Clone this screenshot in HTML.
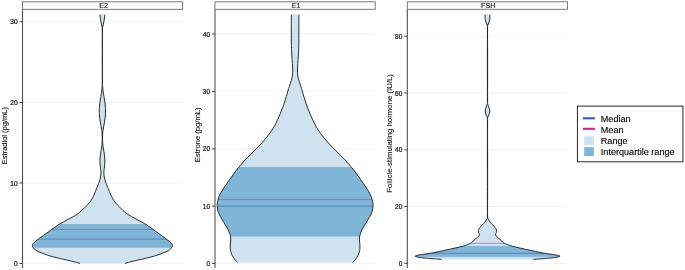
<!DOCTYPE html><html><head><meta charset="utf-8"><style>html,body{margin:0;padding:0;background:#fff}svg{display:block}#w{width:685px;height:270px;overflow:hidden;will-change:transform}</style></head><body><div id="w"><svg width="685" height="270" viewBox="0 0 685 270" font-family="'Liberation Sans', Arial, sans-serif">
<rect width="685" height="270" fill="#fff"/>
<line x1="22.5" x2="182.7" y1="263.4" y2="263.4" stroke="#ebebeb" stroke-width="0.6"/>
<line x1="22.5" x2="182.7" y1="183" y2="183" stroke="#ebebeb" stroke-width="0.6"/>
<line x1="22.5" x2="182.7" y1="102.5" y2="102.5" stroke="#ebebeb" stroke-width="0.6"/>
<line x1="22.5" x2="182.7" y1="21.8" y2="21.8" stroke="#ebebeb" stroke-width="0.6"/>
<clipPath id="c0"><path d="M100.00,14.60 C100.05,15.17 100.13,16.77 100.30,18.00 C100.47,19.23 100.75,20.67 101.00,22.00 C101.25,23.33 101.58,24.83 101.80,26.00 C102.02,27.17 102.23,26.67 102.32,29.00 C102.41,31.33 102.32,34.83 102.32,40.00 C102.32,45.17 102.32,53.33 102.32,60.00 C102.32,66.67 102.35,75.50 102.32,80.00 C102.29,84.50 102.30,84.83 102.15,87.00 C102.00,89.17 101.71,90.83 101.40,93.00 C101.09,95.17 100.62,97.83 100.30,100.00 C99.98,102.17 99.67,104.17 99.50,106.00 C99.33,107.83 99.30,109.33 99.30,111.00 C99.30,112.67 99.33,114.17 99.50,116.00 C99.67,117.83 99.98,120.00 100.30,122.00 C100.62,124.00 101.10,126.17 101.40,128.00 C101.70,129.83 101.95,131.33 102.10,133.00 C102.25,134.67 102.31,136.33 102.32,138.00 C102.33,139.67 102.29,141.33 102.15,143.00 C102.01,144.67 101.78,146.17 101.50,148.00 C101.22,149.83 100.77,152.00 100.50,154.00 C100.23,156.00 99.93,158.00 99.90,160.00 C99.87,162.00 100.13,163.93 100.30,166.00 C100.48,168.07 100.92,170.57 100.95,172.40 C100.98,174.23 100.74,175.57 100.50,177.00 C100.26,178.43 99.80,179.95 99.50,181.00 C99.20,182.05 99.02,182.47 98.70,183.30 C98.38,184.13 97.98,185.07 97.60,186.00 C97.22,186.93 96.93,187.57 96.40,188.90 C95.87,190.23 95.13,192.33 94.40,194.00 C93.67,195.67 92.87,197.40 92.00,198.90 C91.13,200.40 90.27,201.70 89.20,203.00 C88.13,204.30 86.83,205.45 85.60,206.70 C84.37,207.95 83.10,209.32 81.80,210.50 C80.50,211.68 79.20,212.80 77.80,213.80 C76.40,214.80 74.88,215.65 73.40,216.50 C71.92,217.35 70.48,218.03 68.90,218.90 C67.32,219.77 65.57,220.78 63.90,221.70 C62.23,222.62 60.48,223.43 58.90,224.40 C57.32,225.37 55.88,226.45 54.40,227.50 C52.92,228.55 51.38,229.70 50.00,230.70 C48.62,231.70 47.65,232.38 46.10,233.50 C44.55,234.62 42.40,236.15 40.70,237.40 C39.00,238.65 37.15,239.98 35.90,241.00 C34.65,242.02 33.78,242.75 33.20,243.50 C32.62,244.25 32.42,244.83 32.40,245.50 C32.38,246.17 32.45,246.63 33.10,247.50 C33.75,248.37 34.83,249.78 36.30,250.70 C37.77,251.62 39.68,252.15 41.90,253.00 C44.12,253.85 46.93,254.97 49.60,255.80 C52.27,256.63 54.93,257.27 57.90,258.00 C60.87,258.73 64.57,259.53 67.40,260.20 C70.23,260.87 72.82,261.47 74.90,262.00 C76.98,262.53 79.07,263.17 79.90,263.40 L124.90,263.40 C125.73,263.17 127.82,262.53 129.90,262.00 C131.98,261.47 134.57,260.87 137.40,260.20 C140.23,259.53 143.93,258.73 146.90,258.00 C149.87,257.27 152.53,256.63 155.20,255.80 C157.87,254.97 160.68,253.85 162.90,253.00 C165.12,252.15 167.03,251.62 168.50,250.70 C169.97,249.78 171.05,248.37 171.70,247.50 C172.35,246.63 172.42,246.17 172.40,245.50 C172.38,244.83 172.18,244.25 171.60,243.50 C171.02,242.75 170.15,242.02 168.90,241.00 C167.65,239.98 165.80,238.65 164.10,237.40 C162.40,236.15 160.25,234.62 158.70,233.50 C157.15,232.38 156.18,231.70 154.80,230.70 C153.42,229.70 151.88,228.55 150.40,227.50 C148.92,226.45 147.48,225.37 145.90,224.40 C144.32,223.43 142.57,222.62 140.90,221.70 C139.23,220.78 137.48,219.77 135.90,218.90 C134.32,218.03 132.88,217.35 131.40,216.50 C129.92,215.65 128.40,214.80 127.00,213.80 C125.60,212.80 124.30,211.68 123.00,210.50 C121.70,209.32 120.43,207.95 119.20,206.70 C117.97,205.45 116.67,204.30 115.60,203.00 C114.53,201.70 113.67,200.40 112.80,198.90 C111.93,197.40 111.13,195.67 110.40,194.00 C109.67,192.33 108.93,190.23 108.40,188.90 C107.87,187.57 107.58,186.93 107.20,186.00 C106.82,185.07 106.42,184.13 106.10,183.30 C105.78,182.47 105.60,182.05 105.30,181.00 C105.00,179.95 104.54,178.43 104.30,177.00 C104.06,175.57 103.82,174.23 103.85,172.40 C103.88,170.57 104.33,168.07 104.50,166.00 C104.67,163.93 104.93,162.00 104.90,160.00 C104.87,158.00 104.57,156.00 104.30,154.00 C104.03,152.00 103.58,149.83 103.30,148.00 C103.03,146.17 102.79,144.67 102.65,143.00 C102.51,141.33 102.47,139.67 102.48,138.00 C102.49,136.33 102.55,134.67 102.70,133.00 C102.85,131.33 103.10,129.83 103.40,128.00 C103.70,126.17 104.18,124.00 104.50,122.00 C104.82,120.00 105.13,117.83 105.30,116.00 C105.47,114.17 105.50,112.67 105.50,111.00 C105.50,109.33 105.47,107.83 105.30,106.00 C105.13,104.17 104.82,102.17 104.50,100.00 C104.18,97.83 103.71,95.17 103.40,93.00 C103.09,90.83 102.80,89.17 102.65,87.00 C102.50,84.83 102.51,84.50 102.48,80.00 C102.45,75.50 102.48,66.67 102.48,60.00 C102.48,53.33 102.48,45.17 102.48,40.00 C102.48,34.83 102.39,31.33 102.48,29.00 C102.57,26.67 102.78,27.17 103.00,26.00 C103.22,24.83 103.55,23.33 103.80,22.00 C104.05,20.67 104.33,19.23 104.50,18.00 C104.67,16.77 104.75,15.17 104.80,14.60 Z"/></clipPath>
<path d="M100.00,14.60 C100.05,15.17 100.13,16.77 100.30,18.00 C100.47,19.23 100.75,20.67 101.00,22.00 C101.25,23.33 101.58,24.83 101.80,26.00 C102.02,27.17 102.23,26.67 102.32,29.00 C102.41,31.33 102.32,34.83 102.32,40.00 C102.32,45.17 102.32,53.33 102.32,60.00 C102.32,66.67 102.35,75.50 102.32,80.00 C102.29,84.50 102.30,84.83 102.15,87.00 C102.00,89.17 101.71,90.83 101.40,93.00 C101.09,95.17 100.62,97.83 100.30,100.00 C99.98,102.17 99.67,104.17 99.50,106.00 C99.33,107.83 99.30,109.33 99.30,111.00 C99.30,112.67 99.33,114.17 99.50,116.00 C99.67,117.83 99.98,120.00 100.30,122.00 C100.62,124.00 101.10,126.17 101.40,128.00 C101.70,129.83 101.95,131.33 102.10,133.00 C102.25,134.67 102.31,136.33 102.32,138.00 C102.33,139.67 102.29,141.33 102.15,143.00 C102.01,144.67 101.78,146.17 101.50,148.00 C101.22,149.83 100.77,152.00 100.50,154.00 C100.23,156.00 99.93,158.00 99.90,160.00 C99.87,162.00 100.13,163.93 100.30,166.00 C100.48,168.07 100.92,170.57 100.95,172.40 C100.98,174.23 100.74,175.57 100.50,177.00 C100.26,178.43 99.80,179.95 99.50,181.00 C99.20,182.05 99.02,182.47 98.70,183.30 C98.38,184.13 97.98,185.07 97.60,186.00 C97.22,186.93 96.93,187.57 96.40,188.90 C95.87,190.23 95.13,192.33 94.40,194.00 C93.67,195.67 92.87,197.40 92.00,198.90 C91.13,200.40 90.27,201.70 89.20,203.00 C88.13,204.30 86.83,205.45 85.60,206.70 C84.37,207.95 83.10,209.32 81.80,210.50 C80.50,211.68 79.20,212.80 77.80,213.80 C76.40,214.80 74.88,215.65 73.40,216.50 C71.92,217.35 70.48,218.03 68.90,218.90 C67.32,219.77 65.57,220.78 63.90,221.70 C62.23,222.62 60.48,223.43 58.90,224.40 C57.32,225.37 55.88,226.45 54.40,227.50 C52.92,228.55 51.38,229.70 50.00,230.70 C48.62,231.70 47.65,232.38 46.10,233.50 C44.55,234.62 42.40,236.15 40.70,237.40 C39.00,238.65 37.15,239.98 35.90,241.00 C34.65,242.02 33.78,242.75 33.20,243.50 C32.62,244.25 32.42,244.83 32.40,245.50 C32.38,246.17 32.45,246.63 33.10,247.50 C33.75,248.37 34.83,249.78 36.30,250.70 C37.77,251.62 39.68,252.15 41.90,253.00 C44.12,253.85 46.93,254.97 49.60,255.80 C52.27,256.63 54.93,257.27 57.90,258.00 C60.87,258.73 64.57,259.53 67.40,260.20 C70.23,260.87 72.82,261.47 74.90,262.00 C76.98,262.53 79.07,263.17 79.90,263.40 L124.90,263.40 C125.73,263.17 127.82,262.53 129.90,262.00 C131.98,261.47 134.57,260.87 137.40,260.20 C140.23,259.53 143.93,258.73 146.90,258.00 C149.87,257.27 152.53,256.63 155.20,255.80 C157.87,254.97 160.68,253.85 162.90,253.00 C165.12,252.15 167.03,251.62 168.50,250.70 C169.97,249.78 171.05,248.37 171.70,247.50 C172.35,246.63 172.42,246.17 172.40,245.50 C172.38,244.83 172.18,244.25 171.60,243.50 C171.02,242.75 170.15,242.02 168.90,241.00 C167.65,239.98 165.80,238.65 164.10,237.40 C162.40,236.15 160.25,234.62 158.70,233.50 C157.15,232.38 156.18,231.70 154.80,230.70 C153.42,229.70 151.88,228.55 150.40,227.50 C148.92,226.45 147.48,225.37 145.90,224.40 C144.32,223.43 142.57,222.62 140.90,221.70 C139.23,220.78 137.48,219.77 135.90,218.90 C134.32,218.03 132.88,217.35 131.40,216.50 C129.92,215.65 128.40,214.80 127.00,213.80 C125.60,212.80 124.30,211.68 123.00,210.50 C121.70,209.32 120.43,207.95 119.20,206.70 C117.97,205.45 116.67,204.30 115.60,203.00 C114.53,201.70 113.67,200.40 112.80,198.90 C111.93,197.40 111.13,195.67 110.40,194.00 C109.67,192.33 108.93,190.23 108.40,188.90 C107.87,187.57 107.58,186.93 107.20,186.00 C106.82,185.07 106.42,184.13 106.10,183.30 C105.78,182.47 105.60,182.05 105.30,181.00 C105.00,179.95 104.54,178.43 104.30,177.00 C104.06,175.57 103.82,174.23 103.85,172.40 C103.88,170.57 104.33,168.07 104.50,166.00 C104.67,163.93 104.93,162.00 104.90,160.00 C104.87,158.00 104.57,156.00 104.30,154.00 C104.03,152.00 103.58,149.83 103.30,148.00 C103.03,146.17 102.79,144.67 102.65,143.00 C102.51,141.33 102.47,139.67 102.48,138.00 C102.49,136.33 102.55,134.67 102.70,133.00 C102.85,131.33 103.10,129.83 103.40,128.00 C103.70,126.17 104.18,124.00 104.50,122.00 C104.82,120.00 105.13,117.83 105.30,116.00 C105.47,114.17 105.50,112.67 105.50,111.00 C105.50,109.33 105.47,107.83 105.30,106.00 C105.13,104.17 104.82,102.17 104.50,100.00 C104.18,97.83 103.71,95.17 103.40,93.00 C103.09,90.83 102.80,89.17 102.65,87.00 C102.50,84.83 102.51,84.50 102.48,80.00 C102.45,75.50 102.48,66.67 102.48,60.00 C102.48,53.33 102.48,45.17 102.48,40.00 C102.48,34.83 102.39,31.33 102.48,29.00 C102.57,26.67 102.78,27.17 103.00,26.00 C103.22,24.83 103.55,23.33 103.80,22.00 C104.05,20.67 104.33,19.23 104.50,18.00 C104.67,16.77 104.75,15.17 104.80,14.60 Z" fill="#cfe2ef"/>
<g clip-path="url(#c0)"><rect x="22.5" y="224" width="160.2" height="23.80000000000001" fill="#80b5d8"/>
<line x1="22.5" x2="182.7" y1="229.3" y2="229.3" stroke="#cc2296" stroke-width="0.5"/>
<line x1="22.5" x2="182.7" y1="239.1" y2="239.1" stroke="#2f5fa5" stroke-width="0.55"/></g>
<path d="M100.00,14.60 C100.05,15.17 100.13,16.77 100.30,18.00 C100.47,19.23 100.75,20.67 101.00,22.00 C101.25,23.33 101.58,24.83 101.80,26.00 C102.02,27.17 102.23,26.67 102.32,29.00 C102.41,31.33 102.32,34.83 102.32,40.00 C102.32,45.17 102.32,53.33 102.32,60.00 C102.32,66.67 102.35,75.50 102.32,80.00 C102.29,84.50 102.30,84.83 102.15,87.00 C102.00,89.17 101.71,90.83 101.40,93.00 C101.09,95.17 100.62,97.83 100.30,100.00 C99.98,102.17 99.67,104.17 99.50,106.00 C99.33,107.83 99.30,109.33 99.30,111.00 C99.30,112.67 99.33,114.17 99.50,116.00 C99.67,117.83 99.98,120.00 100.30,122.00 C100.62,124.00 101.10,126.17 101.40,128.00 C101.70,129.83 101.95,131.33 102.10,133.00 C102.25,134.67 102.31,136.33 102.32,138.00 C102.33,139.67 102.29,141.33 102.15,143.00 C102.01,144.67 101.78,146.17 101.50,148.00 C101.22,149.83 100.77,152.00 100.50,154.00 C100.23,156.00 99.93,158.00 99.90,160.00 C99.87,162.00 100.13,163.93 100.30,166.00 C100.48,168.07 100.92,170.57 100.95,172.40 C100.98,174.23 100.74,175.57 100.50,177.00 C100.26,178.43 99.80,179.95 99.50,181.00 C99.20,182.05 99.02,182.47 98.70,183.30 C98.38,184.13 97.98,185.07 97.60,186.00 C97.22,186.93 96.93,187.57 96.40,188.90 C95.87,190.23 95.13,192.33 94.40,194.00 C93.67,195.67 92.87,197.40 92.00,198.90 C91.13,200.40 90.27,201.70 89.20,203.00 C88.13,204.30 86.83,205.45 85.60,206.70 C84.37,207.95 83.10,209.32 81.80,210.50 C80.50,211.68 79.20,212.80 77.80,213.80 C76.40,214.80 74.88,215.65 73.40,216.50 C71.92,217.35 70.48,218.03 68.90,218.90 C67.32,219.77 65.57,220.78 63.90,221.70 C62.23,222.62 60.48,223.43 58.90,224.40 C57.32,225.37 55.88,226.45 54.40,227.50 C52.92,228.55 51.38,229.70 50.00,230.70 C48.62,231.70 47.65,232.38 46.10,233.50 C44.55,234.62 42.40,236.15 40.70,237.40 C39.00,238.65 37.15,239.98 35.90,241.00 C34.65,242.02 33.78,242.75 33.20,243.50 C32.62,244.25 32.42,244.83 32.40,245.50 C32.38,246.17 32.45,246.63 33.10,247.50 C33.75,248.37 34.83,249.78 36.30,250.70 C37.77,251.62 39.68,252.15 41.90,253.00 C44.12,253.85 46.93,254.97 49.60,255.80 C52.27,256.63 54.93,257.27 57.90,258.00 C60.87,258.73 64.57,259.53 67.40,260.20 C70.23,260.87 72.82,261.47 74.90,262.00 C76.98,262.53 79.07,263.17 79.90,263.40" fill="none" stroke="#222" stroke-width="0.95"/>
<path d="M104.80,14.60 C104.75,15.17 104.67,16.77 104.50,18.00 C104.33,19.23 104.05,20.67 103.80,22.00 C103.55,23.33 103.22,24.83 103.00,26.00 C102.78,27.17 102.57,26.67 102.48,29.00 C102.39,31.33 102.48,34.83 102.48,40.00 C102.48,45.17 102.48,53.33 102.48,60.00 C102.48,66.67 102.45,75.50 102.48,80.00 C102.51,84.50 102.50,84.83 102.65,87.00 C102.80,89.17 103.09,90.83 103.40,93.00 C103.71,95.17 104.18,97.83 104.50,100.00 C104.82,102.17 105.13,104.17 105.30,106.00 C105.47,107.83 105.50,109.33 105.50,111.00 C105.50,112.67 105.47,114.17 105.30,116.00 C105.13,117.83 104.82,120.00 104.50,122.00 C104.18,124.00 103.70,126.17 103.40,128.00 C103.10,129.83 102.85,131.33 102.70,133.00 C102.55,134.67 102.49,136.33 102.48,138.00 C102.47,139.67 102.51,141.33 102.65,143.00 C102.79,144.67 103.03,146.17 103.30,148.00 C103.58,149.83 104.03,152.00 104.30,154.00 C104.57,156.00 104.87,158.00 104.90,160.00 C104.93,162.00 104.67,163.93 104.50,166.00 C104.33,168.07 103.88,170.57 103.85,172.40 C103.82,174.23 104.06,175.57 104.30,177.00 C104.54,178.43 105.00,179.95 105.30,181.00 C105.60,182.05 105.78,182.47 106.10,183.30 C106.42,184.13 106.82,185.07 107.20,186.00 C107.58,186.93 107.87,187.57 108.40,188.90 C108.93,190.23 109.67,192.33 110.40,194.00 C111.13,195.67 111.93,197.40 112.80,198.90 C113.67,200.40 114.53,201.70 115.60,203.00 C116.67,204.30 117.97,205.45 119.20,206.70 C120.43,207.95 121.70,209.32 123.00,210.50 C124.30,211.68 125.60,212.80 127.00,213.80 C128.40,214.80 129.92,215.65 131.40,216.50 C132.88,217.35 134.32,218.03 135.90,218.90 C137.48,219.77 139.23,220.78 140.90,221.70 C142.57,222.62 144.32,223.43 145.90,224.40 C147.48,225.37 148.92,226.45 150.40,227.50 C151.88,228.55 153.42,229.70 154.80,230.70 C156.18,231.70 157.15,232.38 158.70,233.50 C160.25,234.62 162.40,236.15 164.10,237.40 C165.80,238.65 167.65,239.98 168.90,241.00 C170.15,242.02 171.02,242.75 171.60,243.50 C172.18,244.25 172.38,244.83 172.40,245.50 C172.42,246.17 172.35,246.63 171.70,247.50 C171.05,248.37 169.97,249.78 168.50,250.70 C167.03,251.62 165.12,252.15 162.90,253.00 C160.68,253.85 157.87,254.97 155.20,255.80 C152.53,256.63 149.87,257.27 146.90,258.00 C143.93,258.73 140.23,259.53 137.40,260.20 C134.57,260.87 131.98,261.47 129.90,262.00 C127.82,262.53 125.73,263.17 124.90,263.40" fill="none" stroke="#222" stroke-width="0.95"/>
<line x1="22.5" x2="22.5" y1="9.3" y2="268.1" stroke="#505050" stroke-width="1.1"/>
<rect x="22.5" y="1.8" width="160.2" height="7.500000000000001" fill="#fff" stroke="#6a6a6a" stroke-width="0.9"/>
<text x="103.6" y="8.1" font-size="7.3" text-anchor="middle" fill="#111" stroke="#111" stroke-width="0.12">E2</text>
<line x1="19.5" x2="22.5" y1="263.4" y2="263.4" stroke="#2a2a2a" stroke-width="0.9"/>
<text x="17.6" y="265.9" font-size="6.6" text-anchor="end" fill="#111" stroke="#111" stroke-width="0.2">0</text>
<line x1="19.5" x2="22.5" y1="183" y2="183" stroke="#2a2a2a" stroke-width="0.9"/>
<text x="17.6" y="185.5" font-size="6.6" text-anchor="end" fill="#111" stroke="#111" stroke-width="0.2">10</text>
<line x1="19.5" x2="22.5" y1="102.5" y2="102.5" stroke="#2a2a2a" stroke-width="0.9"/>
<text x="17.6" y="105.0" font-size="6.6" text-anchor="end" fill="#111" stroke="#111" stroke-width="0.2">20</text>
<line x1="19.5" x2="22.5" y1="21.8" y2="21.8" stroke="#2a2a2a" stroke-width="0.9"/>
<text x="17.6" y="24.3" font-size="6.6" text-anchor="end" fill="#111" stroke="#111" stroke-width="0.2">30</text>
<text transform="translate(7.0,135.6) rotate(-90)" font-size="7.5" text-anchor="middle" fill="#111" stroke="#111" stroke-width="0.1">Estradiol (pg/mL)</text>
<line x1="215" x2="375.2" y1="263.4" y2="263.4" stroke="#ebebeb" stroke-width="0.6"/>
<line x1="215" x2="375.2" y1="206.1" y2="206.1" stroke="#ebebeb" stroke-width="0.6"/>
<line x1="215" x2="375.2" y1="148.8" y2="148.8" stroke="#ebebeb" stroke-width="0.6"/>
<line x1="215" x2="375.2" y1="91.4" y2="91.4" stroke="#ebebeb" stroke-width="0.6"/>
<line x1="215" x2="375.2" y1="34" y2="34" stroke="#ebebeb" stroke-width="0.6"/>
<clipPath id="c1"><path d="M291.30,14.60 C291.30,17.17 291.28,24.83 291.30,30.00 C291.32,35.17 291.32,41.43 291.40,45.60 C291.48,49.77 291.63,52.05 291.80,55.00 C291.97,57.95 292.25,60.80 292.40,63.30 C292.55,65.80 292.67,68.22 292.70,70.00 C292.73,71.78 292.72,72.67 292.60,74.00 C292.48,75.33 292.30,76.67 292.00,78.00 C291.70,79.33 291.12,81.00 290.80,82.00 C290.48,83.00 290.35,83.22 290.10,84.00 C289.85,84.78 289.67,85.53 289.30,86.70 C288.93,87.87 288.40,89.33 287.90,91.00 C287.40,92.67 286.90,94.70 286.30,96.70 C285.70,98.70 285.07,100.78 284.30,103.00 C283.53,105.22 282.62,107.67 281.70,110.00 C280.78,112.33 279.92,114.50 278.80,117.00 C277.68,119.50 276.25,122.67 275.00,125.00 C273.75,127.33 272.68,128.95 271.30,131.00 C269.92,133.05 268.28,135.30 266.70,137.30 C265.12,139.30 263.47,141.17 261.80,143.00 C260.13,144.83 258.48,146.47 256.70,148.30 C254.92,150.13 253.03,152.05 251.10,154.00 C249.17,155.95 246.83,158.17 245.10,160.00 C243.37,161.83 242.20,163.23 240.70,165.00 C239.20,166.77 237.65,168.60 236.10,170.60 C234.55,172.60 232.95,174.85 231.40,177.00 C229.85,179.15 228.18,181.48 226.80,183.50 C225.42,185.52 224.27,187.25 223.10,189.10 C221.93,190.95 220.67,192.75 219.80,194.60 C218.93,196.45 218.33,198.50 217.90,200.20 C217.47,201.90 217.28,203.50 217.20,204.80 C217.12,206.10 217.25,206.92 217.40,208.00 C217.55,209.08 217.75,210.13 218.10,211.30 C218.45,212.47 219.03,213.97 219.50,215.00 C219.97,216.03 220.25,216.38 220.90,217.50 C221.55,218.62 222.55,220.28 223.40,221.70 C224.25,223.12 225.18,224.62 226.00,226.00 C226.82,227.38 227.65,228.67 228.30,230.00 C228.95,231.33 229.52,232.83 229.90,234.00 C230.28,235.17 230.47,235.83 230.60,237.00 C230.73,238.17 230.75,239.67 230.70,241.00 C230.65,242.33 230.37,243.67 230.30,245.00 C230.23,246.33 230.20,247.83 230.30,249.00 C230.40,250.17 230.58,250.92 230.90,252.00 C231.22,253.08 231.70,254.45 232.20,255.50 C232.70,256.55 233.32,257.47 233.90,258.30 C234.48,259.13 235.10,259.82 235.70,260.50 C236.30,261.18 237.20,262.08 237.50,262.40 L352.70,262.40 C353.00,262.08 353.90,261.18 354.50,260.50 C355.10,259.82 355.72,259.13 356.30,258.30 C356.88,257.47 357.50,256.55 358.00,255.50 C358.50,254.45 358.98,253.08 359.30,252.00 C359.62,250.92 359.80,250.17 359.90,249.00 C360.00,247.83 359.97,246.33 359.90,245.00 C359.83,243.67 359.55,242.33 359.50,241.00 C359.45,239.67 359.47,238.17 359.60,237.00 C359.73,235.83 359.92,235.17 360.30,234.00 C360.68,232.83 361.25,231.33 361.90,230.00 C362.55,228.67 363.38,227.38 364.20,226.00 C365.02,224.62 365.95,223.12 366.80,221.70 C367.65,220.28 368.65,218.62 369.30,217.50 C369.95,216.38 370.23,216.03 370.70,215.00 C371.17,213.97 371.75,212.47 372.10,211.30 C372.45,210.13 372.65,209.08 372.80,208.00 C372.95,206.92 373.08,206.10 373.00,204.80 C372.92,203.50 372.73,201.90 372.30,200.20 C371.87,198.50 371.27,196.45 370.40,194.60 C369.53,192.75 368.27,190.95 367.10,189.10 C365.93,187.25 364.78,185.52 363.40,183.50 C362.02,181.48 360.35,179.15 358.80,177.00 C357.25,174.85 355.65,172.60 354.10,170.60 C352.55,168.60 351.00,166.77 349.50,165.00 C348.00,163.23 346.83,161.83 345.10,160.00 C343.37,158.17 341.03,155.95 339.10,154.00 C337.17,152.05 335.28,150.13 333.50,148.30 C331.72,146.47 330.07,144.83 328.40,143.00 C326.73,141.17 325.08,139.30 323.50,137.30 C321.92,135.30 320.28,133.05 318.90,131.00 C317.52,128.95 316.45,127.33 315.20,125.00 C313.95,122.67 312.52,119.50 311.40,117.00 C310.28,114.50 309.42,112.33 308.50,110.00 C307.58,107.67 306.67,105.22 305.90,103.00 C305.13,100.78 304.50,98.70 303.90,96.70 C303.30,94.70 302.80,92.67 302.30,91.00 C301.80,89.33 301.27,87.87 300.90,86.70 C300.53,85.53 300.35,84.78 300.10,84.00 C299.85,83.22 299.72,83.00 299.40,82.00 C299.08,81.00 298.50,79.33 298.20,78.00 C297.90,76.67 297.72,75.33 297.60,74.00 C297.48,72.67 297.47,71.78 297.50,70.00 C297.53,68.22 297.65,65.80 297.80,63.30 C297.95,60.80 298.23,57.95 298.40,55.00 C298.57,52.05 298.72,49.77 298.80,45.60 C298.88,41.43 298.88,35.17 298.90,30.00 C298.92,24.83 298.90,17.17 298.90,14.60 Z"/></clipPath>
<path d="M291.30,14.60 C291.30,17.17 291.28,24.83 291.30,30.00 C291.32,35.17 291.32,41.43 291.40,45.60 C291.48,49.77 291.63,52.05 291.80,55.00 C291.97,57.95 292.25,60.80 292.40,63.30 C292.55,65.80 292.67,68.22 292.70,70.00 C292.73,71.78 292.72,72.67 292.60,74.00 C292.48,75.33 292.30,76.67 292.00,78.00 C291.70,79.33 291.12,81.00 290.80,82.00 C290.48,83.00 290.35,83.22 290.10,84.00 C289.85,84.78 289.67,85.53 289.30,86.70 C288.93,87.87 288.40,89.33 287.90,91.00 C287.40,92.67 286.90,94.70 286.30,96.70 C285.70,98.70 285.07,100.78 284.30,103.00 C283.53,105.22 282.62,107.67 281.70,110.00 C280.78,112.33 279.92,114.50 278.80,117.00 C277.68,119.50 276.25,122.67 275.00,125.00 C273.75,127.33 272.68,128.95 271.30,131.00 C269.92,133.05 268.28,135.30 266.70,137.30 C265.12,139.30 263.47,141.17 261.80,143.00 C260.13,144.83 258.48,146.47 256.70,148.30 C254.92,150.13 253.03,152.05 251.10,154.00 C249.17,155.95 246.83,158.17 245.10,160.00 C243.37,161.83 242.20,163.23 240.70,165.00 C239.20,166.77 237.65,168.60 236.10,170.60 C234.55,172.60 232.95,174.85 231.40,177.00 C229.85,179.15 228.18,181.48 226.80,183.50 C225.42,185.52 224.27,187.25 223.10,189.10 C221.93,190.95 220.67,192.75 219.80,194.60 C218.93,196.45 218.33,198.50 217.90,200.20 C217.47,201.90 217.28,203.50 217.20,204.80 C217.12,206.10 217.25,206.92 217.40,208.00 C217.55,209.08 217.75,210.13 218.10,211.30 C218.45,212.47 219.03,213.97 219.50,215.00 C219.97,216.03 220.25,216.38 220.90,217.50 C221.55,218.62 222.55,220.28 223.40,221.70 C224.25,223.12 225.18,224.62 226.00,226.00 C226.82,227.38 227.65,228.67 228.30,230.00 C228.95,231.33 229.52,232.83 229.90,234.00 C230.28,235.17 230.47,235.83 230.60,237.00 C230.73,238.17 230.75,239.67 230.70,241.00 C230.65,242.33 230.37,243.67 230.30,245.00 C230.23,246.33 230.20,247.83 230.30,249.00 C230.40,250.17 230.58,250.92 230.90,252.00 C231.22,253.08 231.70,254.45 232.20,255.50 C232.70,256.55 233.32,257.47 233.90,258.30 C234.48,259.13 235.10,259.82 235.70,260.50 C236.30,261.18 237.20,262.08 237.50,262.40 L352.70,262.40 C353.00,262.08 353.90,261.18 354.50,260.50 C355.10,259.82 355.72,259.13 356.30,258.30 C356.88,257.47 357.50,256.55 358.00,255.50 C358.50,254.45 358.98,253.08 359.30,252.00 C359.62,250.92 359.80,250.17 359.90,249.00 C360.00,247.83 359.97,246.33 359.90,245.00 C359.83,243.67 359.55,242.33 359.50,241.00 C359.45,239.67 359.47,238.17 359.60,237.00 C359.73,235.83 359.92,235.17 360.30,234.00 C360.68,232.83 361.25,231.33 361.90,230.00 C362.55,228.67 363.38,227.38 364.20,226.00 C365.02,224.62 365.95,223.12 366.80,221.70 C367.65,220.28 368.65,218.62 369.30,217.50 C369.95,216.38 370.23,216.03 370.70,215.00 C371.17,213.97 371.75,212.47 372.10,211.30 C372.45,210.13 372.65,209.08 372.80,208.00 C372.95,206.92 373.08,206.10 373.00,204.80 C372.92,203.50 372.73,201.90 372.30,200.20 C371.87,198.50 371.27,196.45 370.40,194.60 C369.53,192.75 368.27,190.95 367.10,189.10 C365.93,187.25 364.78,185.52 363.40,183.50 C362.02,181.48 360.35,179.15 358.80,177.00 C357.25,174.85 355.65,172.60 354.10,170.60 C352.55,168.60 351.00,166.77 349.50,165.00 C348.00,163.23 346.83,161.83 345.10,160.00 C343.37,158.17 341.03,155.95 339.10,154.00 C337.17,152.05 335.28,150.13 333.50,148.30 C331.72,146.47 330.07,144.83 328.40,143.00 C326.73,141.17 325.08,139.30 323.50,137.30 C321.92,135.30 320.28,133.05 318.90,131.00 C317.52,128.95 316.45,127.33 315.20,125.00 C313.95,122.67 312.52,119.50 311.40,117.00 C310.28,114.50 309.42,112.33 308.50,110.00 C307.58,107.67 306.67,105.22 305.90,103.00 C305.13,100.78 304.50,98.70 303.90,96.70 C303.30,94.70 302.80,92.67 302.30,91.00 C301.80,89.33 301.27,87.87 300.90,86.70 C300.53,85.53 300.35,84.78 300.10,84.00 C299.85,83.22 299.72,83.00 299.40,82.00 C299.08,81.00 298.50,79.33 298.20,78.00 C297.90,76.67 297.72,75.33 297.60,74.00 C297.48,72.67 297.47,71.78 297.50,70.00 C297.53,68.22 297.65,65.80 297.80,63.30 C297.95,60.80 298.23,57.95 298.40,55.00 C298.57,52.05 298.72,49.77 298.80,45.60 C298.88,41.43 298.88,35.17 298.90,30.00 C298.92,24.83 298.90,17.17 298.90,14.60 Z" fill="#cfe2ef"/>
<g clip-path="url(#c1)"><rect x="215" y="167.0" width="160.2" height="69.6" fill="#80b5d8"/>
<line x1="215" x2="375.2" y1="199.4" y2="199.4" stroke="#cc2296" stroke-width="0.5"/>
<line x1="215" x2="375.2" y1="206.1" y2="206.1" stroke="#2f5fa5" stroke-width="0.55"/></g>
<path d="M291.30,14.60 C291.30,17.17 291.28,24.83 291.30,30.00 C291.32,35.17 291.32,41.43 291.40,45.60 C291.48,49.77 291.63,52.05 291.80,55.00 C291.97,57.95 292.25,60.80 292.40,63.30 C292.55,65.80 292.67,68.22 292.70,70.00 C292.73,71.78 292.72,72.67 292.60,74.00 C292.48,75.33 292.30,76.67 292.00,78.00 C291.70,79.33 291.12,81.00 290.80,82.00 C290.48,83.00 290.35,83.22 290.10,84.00 C289.85,84.78 289.67,85.53 289.30,86.70 C288.93,87.87 288.40,89.33 287.90,91.00 C287.40,92.67 286.90,94.70 286.30,96.70 C285.70,98.70 285.07,100.78 284.30,103.00 C283.53,105.22 282.62,107.67 281.70,110.00 C280.78,112.33 279.92,114.50 278.80,117.00 C277.68,119.50 276.25,122.67 275.00,125.00 C273.75,127.33 272.68,128.95 271.30,131.00 C269.92,133.05 268.28,135.30 266.70,137.30 C265.12,139.30 263.47,141.17 261.80,143.00 C260.13,144.83 258.48,146.47 256.70,148.30 C254.92,150.13 253.03,152.05 251.10,154.00 C249.17,155.95 246.83,158.17 245.10,160.00 C243.37,161.83 242.20,163.23 240.70,165.00 C239.20,166.77 237.65,168.60 236.10,170.60 C234.55,172.60 232.95,174.85 231.40,177.00 C229.85,179.15 228.18,181.48 226.80,183.50 C225.42,185.52 224.27,187.25 223.10,189.10 C221.93,190.95 220.67,192.75 219.80,194.60 C218.93,196.45 218.33,198.50 217.90,200.20 C217.47,201.90 217.28,203.50 217.20,204.80 C217.12,206.10 217.25,206.92 217.40,208.00 C217.55,209.08 217.75,210.13 218.10,211.30 C218.45,212.47 219.03,213.97 219.50,215.00 C219.97,216.03 220.25,216.38 220.90,217.50 C221.55,218.62 222.55,220.28 223.40,221.70 C224.25,223.12 225.18,224.62 226.00,226.00 C226.82,227.38 227.65,228.67 228.30,230.00 C228.95,231.33 229.52,232.83 229.90,234.00 C230.28,235.17 230.47,235.83 230.60,237.00 C230.73,238.17 230.75,239.67 230.70,241.00 C230.65,242.33 230.37,243.67 230.30,245.00 C230.23,246.33 230.20,247.83 230.30,249.00 C230.40,250.17 230.58,250.92 230.90,252.00 C231.22,253.08 231.70,254.45 232.20,255.50 C232.70,256.55 233.32,257.47 233.90,258.30 C234.48,259.13 235.10,259.82 235.70,260.50 C236.30,261.18 237.20,262.08 237.50,262.40" fill="none" stroke="#222" stroke-width="0.95"/>
<path d="M298.90,14.60 C298.90,17.17 298.92,24.83 298.90,30.00 C298.88,35.17 298.88,41.43 298.80,45.60 C298.72,49.77 298.57,52.05 298.40,55.00 C298.23,57.95 297.95,60.80 297.80,63.30 C297.65,65.80 297.53,68.22 297.50,70.00 C297.47,71.78 297.48,72.67 297.60,74.00 C297.72,75.33 297.90,76.67 298.20,78.00 C298.50,79.33 299.08,81.00 299.40,82.00 C299.72,83.00 299.85,83.22 300.10,84.00 C300.35,84.78 300.53,85.53 300.90,86.70 C301.27,87.87 301.80,89.33 302.30,91.00 C302.80,92.67 303.30,94.70 303.90,96.70 C304.50,98.70 305.13,100.78 305.90,103.00 C306.67,105.22 307.58,107.67 308.50,110.00 C309.42,112.33 310.28,114.50 311.40,117.00 C312.52,119.50 313.95,122.67 315.20,125.00 C316.45,127.33 317.52,128.95 318.90,131.00 C320.28,133.05 321.92,135.30 323.50,137.30 C325.08,139.30 326.73,141.17 328.40,143.00 C330.07,144.83 331.72,146.47 333.50,148.30 C335.28,150.13 337.17,152.05 339.10,154.00 C341.03,155.95 343.37,158.17 345.10,160.00 C346.83,161.83 348.00,163.23 349.50,165.00 C351.00,166.77 352.55,168.60 354.10,170.60 C355.65,172.60 357.25,174.85 358.80,177.00 C360.35,179.15 362.02,181.48 363.40,183.50 C364.78,185.52 365.93,187.25 367.10,189.10 C368.27,190.95 369.53,192.75 370.40,194.60 C371.27,196.45 371.87,198.50 372.30,200.20 C372.73,201.90 372.92,203.50 373.00,204.80 C373.08,206.10 372.95,206.92 372.80,208.00 C372.65,209.08 372.45,210.13 372.10,211.30 C371.75,212.47 371.17,213.97 370.70,215.00 C370.23,216.03 369.95,216.38 369.30,217.50 C368.65,218.62 367.65,220.28 366.80,221.70 C365.95,223.12 365.02,224.62 364.20,226.00 C363.38,227.38 362.55,228.67 361.90,230.00 C361.25,231.33 360.68,232.83 360.30,234.00 C359.92,235.17 359.73,235.83 359.60,237.00 C359.47,238.17 359.45,239.67 359.50,241.00 C359.55,242.33 359.83,243.67 359.90,245.00 C359.97,246.33 360.00,247.83 359.90,249.00 C359.80,250.17 359.62,250.92 359.30,252.00 C358.98,253.08 358.50,254.45 358.00,255.50 C357.50,256.55 356.88,257.47 356.30,258.30 C355.72,259.13 355.10,259.82 354.50,260.50 C353.90,261.18 353.00,262.08 352.70,262.40" fill="none" stroke="#222" stroke-width="0.95"/>
<line x1="215" x2="215" y1="9.3" y2="268.1" stroke="#505050" stroke-width="1.1"/>
<rect x="215" y="1.8" width="160.2" height="7.500000000000001" fill="#fff" stroke="#6a6a6a" stroke-width="0.9"/>
<text x="296.1" y="8.1" font-size="7.3" text-anchor="middle" fill="#111" stroke="#111" stroke-width="0.12">E1</text>
<line x1="212" x2="215" y1="263.4" y2="263.4" stroke="#2a2a2a" stroke-width="0.9"/>
<text x="210.1" y="265.9" font-size="6.6" text-anchor="end" fill="#111" stroke="#111" stroke-width="0.2">0</text>
<line x1="212" x2="215" y1="206.1" y2="206.1" stroke="#2a2a2a" stroke-width="0.9"/>
<text x="210.1" y="208.6" font-size="6.6" text-anchor="end" fill="#111" stroke="#111" stroke-width="0.2">10</text>
<line x1="212" x2="215" y1="148.8" y2="148.8" stroke="#2a2a2a" stroke-width="0.9"/>
<text x="210.1" y="151.3" font-size="6.6" text-anchor="end" fill="#111" stroke="#111" stroke-width="0.2">20</text>
<line x1="212" x2="215" y1="91.4" y2="91.4" stroke="#2a2a2a" stroke-width="0.9"/>
<text x="210.1" y="93.9" font-size="6.6" text-anchor="end" fill="#111" stroke="#111" stroke-width="0.2">30</text>
<line x1="212" x2="215" y1="34" y2="34" stroke="#2a2a2a" stroke-width="0.9"/>
<text x="210.1" y="36.5" font-size="6.6" text-anchor="end" fill="#111" stroke="#111" stroke-width="0.2">40</text>
<text transform="translate(199.5,134.8) rotate(-90)" font-size="7.65" text-anchor="middle" fill="#111" stroke="#111" stroke-width="0.1">Estrone (pg/mL)</text>
<line x1="407.3" x2="567.4" y1="263.3" y2="263.3" stroke="#ebebeb" stroke-width="0.6"/>
<line x1="407.3" x2="567.4" y1="206.5" y2="206.5" stroke="#ebebeb" stroke-width="0.6"/>
<line x1="407.3" x2="567.4" y1="149.8" y2="149.8" stroke="#ebebeb" stroke-width="0.6"/>
<line x1="407.3" x2="567.4" y1="93.0" y2="93.0" stroke="#ebebeb" stroke-width="0.6"/>
<line x1="407.3" x2="567.4" y1="36.3" y2="36.3" stroke="#ebebeb" stroke-width="0.6"/>
<clipPath id="c2"><path d="M485.10,14.60 C485.10,15.17 485.07,17.10 485.10,18.00 C485.13,18.90 485.15,19.30 485.30,20.00 C485.45,20.70 485.75,21.45 486.00,22.20 C486.25,22.95 486.56,23.75 486.80,24.50 C487.04,25.25 487.32,22.45 487.42,26.70 C487.52,30.95 487.42,41.12 487.42,50.00 C487.42,58.88 487.42,71.67 487.42,80.00 C487.42,88.33 487.46,95.97 487.42,100.00 C487.38,104.03 487.40,103.03 487.20,104.20 C487.00,105.37 486.53,105.87 486.20,107.00 C485.87,108.13 485.20,109.67 485.20,111.00 C485.20,112.33 485.87,113.92 486.20,115.00 C486.53,116.08 487.00,116.33 487.20,117.50 C487.40,118.67 487.38,114.92 487.42,122.00 C487.46,129.08 487.42,147.00 487.42,160.00 C487.42,173.00 487.42,190.83 487.42,200.00 C487.42,209.17 487.47,211.93 487.42,215.00 C487.37,218.07 487.30,217.57 487.10,218.40 C486.90,219.23 486.57,219.37 486.20,220.00 C485.83,220.63 485.48,221.45 484.90,222.20 C484.32,222.95 483.42,223.75 482.70,224.50 C481.98,225.25 481.23,225.95 480.60,226.70 C479.97,227.45 479.28,228.27 478.90,229.00 C478.52,229.73 478.33,230.48 478.30,231.10 C478.27,231.72 478.50,232.17 478.70,232.70 C478.90,233.23 479.47,233.75 479.50,234.30 C479.53,234.85 479.47,235.32 478.90,236.00 C478.33,236.68 476.97,237.65 476.10,238.40 C475.23,239.15 474.43,239.78 473.70,240.50 C472.97,241.22 472.57,242.07 471.70,242.70 C470.83,243.33 469.98,243.72 468.50,244.30 C467.02,244.88 464.80,245.63 462.80,246.20 C460.80,246.77 458.73,247.18 456.50,247.70 C454.27,248.22 451.73,248.78 449.40,249.30 C447.07,249.82 444.72,250.32 442.50,250.80 C440.28,251.28 438.10,251.78 436.10,252.20 C434.10,252.62 432.72,252.93 430.50,253.30 C428.28,253.67 424.97,254.07 422.80,254.40 C420.63,254.73 418.77,255.03 417.50,255.30 C416.23,255.57 415.45,255.77 415.20,256.00 C414.95,256.23 415.48,256.48 416.00,256.70 C416.52,256.92 417.13,257.10 418.30,257.30 C419.47,257.50 421.15,257.72 423.00,257.90 C424.85,258.08 427.32,258.23 429.40,258.40 C431.48,258.57 433.45,258.73 435.50,258.90 C437.55,259.07 440.67,259.32 441.70,259.40 L533.30,259.40 C534.33,259.32 537.45,259.07 539.50,258.90 C541.55,258.73 543.52,258.57 545.60,258.40 C547.68,258.23 550.15,258.08 552.00,257.90 C553.85,257.72 555.53,257.50 556.70,257.30 C557.87,257.10 558.48,256.92 559.00,256.70 C559.52,256.48 560.05,256.23 559.80,256.00 C559.55,255.77 558.77,255.57 557.50,255.30 C556.23,255.03 554.37,254.73 552.20,254.40 C550.03,254.07 546.72,253.67 544.50,253.30 C542.28,252.93 540.90,252.62 538.90,252.20 C536.90,251.78 534.72,251.28 532.50,250.80 C530.28,250.32 527.93,249.82 525.60,249.30 C523.27,248.78 520.73,248.22 518.50,247.70 C516.27,247.18 514.20,246.77 512.20,246.20 C510.20,245.63 507.98,244.88 506.50,244.30 C505.02,243.72 504.17,243.33 503.30,242.70 C502.43,242.07 502.03,241.22 501.30,240.50 C500.57,239.78 499.77,239.15 498.90,238.40 C498.03,237.65 496.67,236.68 496.10,236.00 C495.53,235.32 495.47,234.85 495.50,234.30 C495.53,233.75 496.10,233.23 496.30,232.70 C496.50,232.17 496.73,231.72 496.70,231.10 C496.67,230.48 496.48,229.73 496.10,229.00 C495.72,228.27 495.03,227.45 494.40,226.70 C493.77,225.95 493.02,225.25 492.30,224.50 C491.58,223.75 490.68,222.95 490.10,222.20 C489.52,221.45 489.17,220.63 488.80,220.00 C488.43,219.37 488.10,219.23 487.90,218.40 C487.70,217.57 487.63,218.07 487.58,215.00 C487.53,211.93 487.58,209.17 487.58,200.00 C487.58,190.83 487.58,173.00 487.58,160.00 C487.58,147.00 487.54,129.08 487.58,122.00 C487.62,114.92 487.60,118.67 487.80,117.50 C488.00,116.33 488.47,116.08 488.80,115.00 C489.13,113.92 489.80,112.33 489.80,111.00 C489.80,109.67 489.13,108.13 488.80,107.00 C488.47,105.87 488.00,105.37 487.80,104.20 C487.60,103.03 487.62,104.03 487.58,100.00 C487.54,95.97 487.58,88.33 487.58,80.00 C487.58,71.67 487.58,58.88 487.58,50.00 C487.58,41.12 487.48,30.95 487.58,26.70 C487.68,22.45 487.96,25.25 488.20,24.50 C488.44,23.75 488.75,22.95 489.00,22.20 C489.25,21.45 489.55,20.70 489.70,20.00 C489.85,19.30 489.87,18.90 489.90,18.00 C489.93,17.10 489.90,15.17 489.90,14.60 Z"/></clipPath>
<path d="M485.10,14.60 C485.10,15.17 485.07,17.10 485.10,18.00 C485.13,18.90 485.15,19.30 485.30,20.00 C485.45,20.70 485.75,21.45 486.00,22.20 C486.25,22.95 486.56,23.75 486.80,24.50 C487.04,25.25 487.32,22.45 487.42,26.70 C487.52,30.95 487.42,41.12 487.42,50.00 C487.42,58.88 487.42,71.67 487.42,80.00 C487.42,88.33 487.46,95.97 487.42,100.00 C487.38,104.03 487.40,103.03 487.20,104.20 C487.00,105.37 486.53,105.87 486.20,107.00 C485.87,108.13 485.20,109.67 485.20,111.00 C485.20,112.33 485.87,113.92 486.20,115.00 C486.53,116.08 487.00,116.33 487.20,117.50 C487.40,118.67 487.38,114.92 487.42,122.00 C487.46,129.08 487.42,147.00 487.42,160.00 C487.42,173.00 487.42,190.83 487.42,200.00 C487.42,209.17 487.47,211.93 487.42,215.00 C487.37,218.07 487.30,217.57 487.10,218.40 C486.90,219.23 486.57,219.37 486.20,220.00 C485.83,220.63 485.48,221.45 484.90,222.20 C484.32,222.95 483.42,223.75 482.70,224.50 C481.98,225.25 481.23,225.95 480.60,226.70 C479.97,227.45 479.28,228.27 478.90,229.00 C478.52,229.73 478.33,230.48 478.30,231.10 C478.27,231.72 478.50,232.17 478.70,232.70 C478.90,233.23 479.47,233.75 479.50,234.30 C479.53,234.85 479.47,235.32 478.90,236.00 C478.33,236.68 476.97,237.65 476.10,238.40 C475.23,239.15 474.43,239.78 473.70,240.50 C472.97,241.22 472.57,242.07 471.70,242.70 C470.83,243.33 469.98,243.72 468.50,244.30 C467.02,244.88 464.80,245.63 462.80,246.20 C460.80,246.77 458.73,247.18 456.50,247.70 C454.27,248.22 451.73,248.78 449.40,249.30 C447.07,249.82 444.72,250.32 442.50,250.80 C440.28,251.28 438.10,251.78 436.10,252.20 C434.10,252.62 432.72,252.93 430.50,253.30 C428.28,253.67 424.97,254.07 422.80,254.40 C420.63,254.73 418.77,255.03 417.50,255.30 C416.23,255.57 415.45,255.77 415.20,256.00 C414.95,256.23 415.48,256.48 416.00,256.70 C416.52,256.92 417.13,257.10 418.30,257.30 C419.47,257.50 421.15,257.72 423.00,257.90 C424.85,258.08 427.32,258.23 429.40,258.40 C431.48,258.57 433.45,258.73 435.50,258.90 C437.55,259.07 440.67,259.32 441.70,259.40 L533.30,259.40 C534.33,259.32 537.45,259.07 539.50,258.90 C541.55,258.73 543.52,258.57 545.60,258.40 C547.68,258.23 550.15,258.08 552.00,257.90 C553.85,257.72 555.53,257.50 556.70,257.30 C557.87,257.10 558.48,256.92 559.00,256.70 C559.52,256.48 560.05,256.23 559.80,256.00 C559.55,255.77 558.77,255.57 557.50,255.30 C556.23,255.03 554.37,254.73 552.20,254.40 C550.03,254.07 546.72,253.67 544.50,253.30 C542.28,252.93 540.90,252.62 538.90,252.20 C536.90,251.78 534.72,251.28 532.50,250.80 C530.28,250.32 527.93,249.82 525.60,249.30 C523.27,248.78 520.73,248.22 518.50,247.70 C516.27,247.18 514.20,246.77 512.20,246.20 C510.20,245.63 507.98,244.88 506.50,244.30 C505.02,243.72 504.17,243.33 503.30,242.70 C502.43,242.07 502.03,241.22 501.30,240.50 C500.57,239.78 499.77,239.15 498.90,238.40 C498.03,237.65 496.67,236.68 496.10,236.00 C495.53,235.32 495.47,234.85 495.50,234.30 C495.53,233.75 496.10,233.23 496.30,232.70 C496.50,232.17 496.73,231.72 496.70,231.10 C496.67,230.48 496.48,229.73 496.10,229.00 C495.72,228.27 495.03,227.45 494.40,226.70 C493.77,225.95 493.02,225.25 492.30,224.50 C491.58,223.75 490.68,222.95 490.10,222.20 C489.52,221.45 489.17,220.63 488.80,220.00 C488.43,219.37 488.10,219.23 487.90,218.40 C487.70,217.57 487.63,218.07 487.58,215.00 C487.53,211.93 487.58,209.17 487.58,200.00 C487.58,190.83 487.58,173.00 487.58,160.00 C487.58,147.00 487.54,129.08 487.58,122.00 C487.62,114.92 487.60,118.67 487.80,117.50 C488.00,116.33 488.47,116.08 488.80,115.00 C489.13,113.92 489.80,112.33 489.80,111.00 C489.80,109.67 489.13,108.13 488.80,107.00 C488.47,105.87 488.00,105.37 487.80,104.20 C487.60,103.03 487.62,104.03 487.58,100.00 C487.54,95.97 487.58,88.33 487.58,80.00 C487.58,71.67 487.58,58.88 487.58,50.00 C487.58,41.12 487.48,30.95 487.58,26.70 C487.68,22.45 487.96,25.25 488.20,24.50 C488.44,23.75 488.75,22.95 489.00,22.20 C489.25,21.45 489.55,20.70 489.70,20.00 C489.85,19.30 489.87,18.90 489.90,18.00 C489.93,17.10 489.90,15.17 489.90,14.60 Z" fill="#cfe2ef"/>
<g clip-path="url(#c2)"><rect x="407.3" y="246.1" width="160.09999999999997" height="10.799999999999983" fill="#80b5d8"/>
<line x1="407.3" x2="567.4" y1="243.3" y2="243.3" stroke="#cc2296" stroke-width="0.5"/>
<line x1="407.3" x2="567.4" y1="253.3" y2="253.3" stroke="#2f5fa5" stroke-width="0.55"/></g>
<path d="M485.10,14.60 C485.10,15.17 485.07,17.10 485.10,18.00 C485.13,18.90 485.15,19.30 485.30,20.00 C485.45,20.70 485.75,21.45 486.00,22.20 C486.25,22.95 486.56,23.75 486.80,24.50 C487.04,25.25 487.32,22.45 487.42,26.70 C487.52,30.95 487.42,41.12 487.42,50.00 C487.42,58.88 487.42,71.67 487.42,80.00 C487.42,88.33 487.46,95.97 487.42,100.00 C487.38,104.03 487.40,103.03 487.20,104.20 C487.00,105.37 486.53,105.87 486.20,107.00 C485.87,108.13 485.20,109.67 485.20,111.00 C485.20,112.33 485.87,113.92 486.20,115.00 C486.53,116.08 487.00,116.33 487.20,117.50 C487.40,118.67 487.38,114.92 487.42,122.00 C487.46,129.08 487.42,147.00 487.42,160.00 C487.42,173.00 487.42,190.83 487.42,200.00 C487.42,209.17 487.47,211.93 487.42,215.00 C487.37,218.07 487.30,217.57 487.10,218.40 C486.90,219.23 486.57,219.37 486.20,220.00 C485.83,220.63 485.48,221.45 484.90,222.20 C484.32,222.95 483.42,223.75 482.70,224.50 C481.98,225.25 481.23,225.95 480.60,226.70 C479.97,227.45 479.28,228.27 478.90,229.00 C478.52,229.73 478.33,230.48 478.30,231.10 C478.27,231.72 478.50,232.17 478.70,232.70 C478.90,233.23 479.47,233.75 479.50,234.30 C479.53,234.85 479.47,235.32 478.90,236.00 C478.33,236.68 476.97,237.65 476.10,238.40 C475.23,239.15 474.43,239.78 473.70,240.50 C472.97,241.22 472.57,242.07 471.70,242.70 C470.83,243.33 469.98,243.72 468.50,244.30 C467.02,244.88 464.80,245.63 462.80,246.20 C460.80,246.77 458.73,247.18 456.50,247.70 C454.27,248.22 451.73,248.78 449.40,249.30 C447.07,249.82 444.72,250.32 442.50,250.80 C440.28,251.28 438.10,251.78 436.10,252.20 C434.10,252.62 432.72,252.93 430.50,253.30 C428.28,253.67 424.97,254.07 422.80,254.40 C420.63,254.73 418.77,255.03 417.50,255.30 C416.23,255.57 415.45,255.77 415.20,256.00 C414.95,256.23 415.48,256.48 416.00,256.70 C416.52,256.92 417.13,257.10 418.30,257.30 C419.47,257.50 421.15,257.72 423.00,257.90 C424.85,258.08 427.32,258.23 429.40,258.40 C431.48,258.57 433.45,258.73 435.50,258.90 C437.55,259.07 440.67,259.32 441.70,259.40" fill="none" stroke="#222" stroke-width="0.95"/>
<path d="M489.90,14.60 C489.90,15.17 489.93,17.10 489.90,18.00 C489.87,18.90 489.85,19.30 489.70,20.00 C489.55,20.70 489.25,21.45 489.00,22.20 C488.75,22.95 488.44,23.75 488.20,24.50 C487.96,25.25 487.68,22.45 487.58,26.70 C487.48,30.95 487.58,41.12 487.58,50.00 C487.58,58.88 487.58,71.67 487.58,80.00 C487.58,88.33 487.54,95.97 487.58,100.00 C487.62,104.03 487.60,103.03 487.80,104.20 C488.00,105.37 488.47,105.87 488.80,107.00 C489.13,108.13 489.80,109.67 489.80,111.00 C489.80,112.33 489.13,113.92 488.80,115.00 C488.47,116.08 488.00,116.33 487.80,117.50 C487.60,118.67 487.62,114.92 487.58,122.00 C487.54,129.08 487.58,147.00 487.58,160.00 C487.58,173.00 487.58,190.83 487.58,200.00 C487.58,209.17 487.53,211.93 487.58,215.00 C487.63,218.07 487.70,217.57 487.90,218.40 C488.10,219.23 488.43,219.37 488.80,220.00 C489.17,220.63 489.52,221.45 490.10,222.20 C490.68,222.95 491.58,223.75 492.30,224.50 C493.02,225.25 493.77,225.95 494.40,226.70 C495.03,227.45 495.72,228.27 496.10,229.00 C496.48,229.73 496.67,230.48 496.70,231.10 C496.73,231.72 496.50,232.17 496.30,232.70 C496.10,233.23 495.53,233.75 495.50,234.30 C495.47,234.85 495.53,235.32 496.10,236.00 C496.67,236.68 498.03,237.65 498.90,238.40 C499.77,239.15 500.57,239.78 501.30,240.50 C502.03,241.22 502.43,242.07 503.30,242.70 C504.17,243.33 505.02,243.72 506.50,244.30 C507.98,244.88 510.20,245.63 512.20,246.20 C514.20,246.77 516.27,247.18 518.50,247.70 C520.73,248.22 523.27,248.78 525.60,249.30 C527.93,249.82 530.28,250.32 532.50,250.80 C534.72,251.28 536.90,251.78 538.90,252.20 C540.90,252.62 542.28,252.93 544.50,253.30 C546.72,253.67 550.03,254.07 552.20,254.40 C554.37,254.73 556.23,255.03 557.50,255.30 C558.77,255.57 559.55,255.77 559.80,256.00 C560.05,256.23 559.52,256.48 559.00,256.70 C558.48,256.92 557.87,257.10 556.70,257.30 C555.53,257.50 553.85,257.72 552.00,257.90 C550.15,258.08 547.68,258.23 545.60,258.40 C543.52,258.57 541.55,258.73 539.50,258.90 C537.45,259.07 534.33,259.32 533.30,259.40" fill="none" stroke="#222" stroke-width="0.95"/>
<line x1="407.3" x2="407.3" y1="9.3" y2="268.1" stroke="#505050" stroke-width="1.1"/>
<rect x="407.3" y="1.8" width="160.09999999999997" height="7.500000000000001" fill="#fff" stroke="#6a6a6a" stroke-width="0.9"/>
<text x="488.35" y="8.1" font-size="7.3" text-anchor="middle" fill="#111" stroke="#111" stroke-width="0.12">FSH</text>
<line x1="404.3" x2="407.3" y1="263.3" y2="263.3" stroke="#2a2a2a" stroke-width="0.9"/>
<text x="402.40000000000003" y="265.8" font-size="6.6" text-anchor="end" fill="#111" stroke="#111" stroke-width="0.2">0</text>
<line x1="404.3" x2="407.3" y1="206.5" y2="206.5" stroke="#2a2a2a" stroke-width="0.9"/>
<text x="402.40000000000003" y="209.0" font-size="6.6" text-anchor="end" fill="#111" stroke="#111" stroke-width="0.2">20</text>
<line x1="404.3" x2="407.3" y1="149.8" y2="149.8" stroke="#2a2a2a" stroke-width="0.9"/>
<text x="402.40000000000003" y="152.3" font-size="6.6" text-anchor="end" fill="#111" stroke="#111" stroke-width="0.2">40</text>
<line x1="404.3" x2="407.3" y1="93.0" y2="93.0" stroke="#2a2a2a" stroke-width="0.9"/>
<text x="402.40000000000003" y="95.5" font-size="6.6" text-anchor="end" fill="#111" stroke="#111" stroke-width="0.2">60</text>
<line x1="404.3" x2="407.3" y1="36.3" y2="36.3" stroke="#2a2a2a" stroke-width="0.9"/>
<text x="402.40000000000003" y="38.8" font-size="6.6" text-anchor="end" fill="#111" stroke="#111" stroke-width="0.2">80</text>
<text transform="translate(391.8,133.4) rotate(-90)" font-size="7.8" text-anchor="middle" fill="#111" stroke="#111" stroke-width="0.1">Follicle-stimulating hormone (IU/L)</text>
<rect x="577.4" y="106.1" width="105.5" height="55.7" fill="#fff" stroke="#111" stroke-width="0.9"/>
<line x1="582.9" x2="594.9" y1="118.3" y2="118.3" stroke="#2f5fa5" stroke-width="2.1"/>
<line x1="582.9" x2="594.9" y1="128.8" y2="128.8" stroke="#cc2296" stroke-width="2.1"/>
<rect x="584.1" y="136.2" width="9.8" height="8.9" fill="#cfe2ef"/>
<rect x="584.1" y="147.2" width="9.8" height="8.9" fill="#80b5d8"/>
<text x="600.8" y="121.7" font-size="9.1" fill="#000" stroke="#000" stroke-width="0.12">Median</text>
<text x="600.8" y="132.6" font-size="9.1" fill="#000" stroke="#000" stroke-width="0.12">Mean</text>
<text x="600.8" y="143.6" font-size="9.1" fill="#000" stroke="#000" stroke-width="0.12">Range</text>
<text x="600.8" y="154.8" font-size="9.1" fill="#000" stroke="#000" stroke-width="0.12">Interquartile range</text>
</svg></div></body></html>
